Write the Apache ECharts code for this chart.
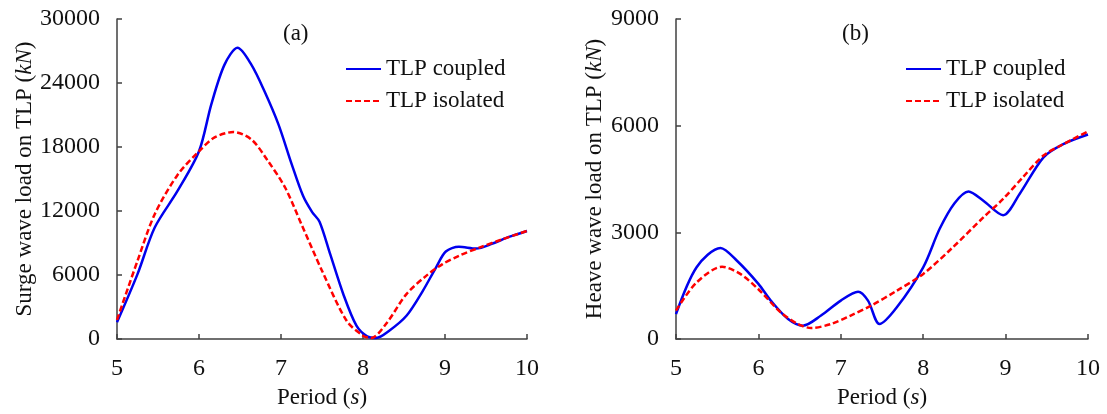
<!DOCTYPE html>
<html>
<head>
<meta charset="utf-8">
<script src="https://cdn.jsdelivr.net/npm/echarts@6/dist/echarts.min.js"></script>
<style>
html,body{margin:0;padding:0;background:#fff;}
#c{width:1107px;height:414px;}
</style>
</head>
<body>
<div id="c"></div>
<script>
// Panel (a): surge wave load (kN) vs period (s)
const surgeCoupledX = [5.0, 5.25, 5.46, 5.74, 6.0, 6.15, 6.31, 6.47, 6.64, 6.8, 6.97, 7.13, 7.27, 7.38, 7.47, 7.6, 7.76, 7.92, 8.05, 8.16, 8.32, 8.53, 8.73, 8.89, 9.01, 9.17, 9.38, 9.58, 9.78, 10.0];
const surgeCoupledY = [1560, 6080, 10450, 13900, 17600, 22000, 25700, 27300, 25700, 23200, 20100, 16400, 13400, 11900, 11000, 7950, 4200, 1250, 250, 100, 780, 2180, 4520, 6700, 8200, 8640, 8480, 8950, 9570, 10130];
const surgeIsolatedX = [5.0, 5.25, 5.46, 5.74, 6.0, 6.19, 6.42, 6.64, 6.84, 7.05, 7.25, 7.5, 7.8, 8.0, 8.1, 8.28, 8.53, 8.77, 8.97, 9.17, 9.42, 9.7, 10.0];
const surgeIsolatedY = [1800, 7330, 11700, 15400, 17600, 18900, 19400, 18700, 16700, 14200, 10750, 6400, 1710, 310, 90, 1400, 4210, 5920, 7020, 7800, 8570, 9350, 10130];

// Panel (b): heave wave load (kN) vs period (s)
const heaveCoupledX = [5.0, 5.25, 5.54, 5.74, 6.0, 6.15, 6.36, 6.54, 6.76, 7.0, 7.21, 7.33, 7.47, 7.68, 8.0, 8.2, 8.38, 8.55, 8.73, 8.97, 9.17, 9.46, 9.7, 10.0];
const heaveCoupledY = [700, 2020, 2560, 2200, 1550, 1080, 560, 375, 660, 1080, 1330, 1080, 420, 890, 2015, 3100, 3820, 4150, 3890, 3480, 4080, 5110, 5480, 5750];
const heaveIsolatedX = [5.0, 5.25, 5.56, 5.78, 6.0, 6.27, 6.48, 6.64, 6.88, 7.12, 7.37, 7.68, 8.0, 8.36, 8.73, 8.97, 9.21, 9.46, 9.7, 10.0];
const heaveIsolatedY = [800, 1590, 2030, 1830, 1400, 750, 420, 310, 420, 660, 940, 1360, 1830, 2580, 3420, 3940, 4550, 5160, 5480, 5840];

const seriesNames = ['TLP coupled', 'TLP isolated'];
const panelLabels = ['(a)', '(b)'];
const yNames = ['Surge wave load on TLP ({i|kN})', 'Heave wave load on TLP ({i|kN})'];
const xName = 'Period ({i|s})';

const FONT = '"Liberation Serif", "Times New Roman", serif';
const FS = 23;
const LFS = 24;
const AX = '#404040';
const TXT = '#111';
const zip = (xs, ys) => xs.map((x, i) => [x, ys[i]]);

function xAxisCfg(gi) {
  return {
    type: 'value', gridIndex: gi, min: 5, max: 10, interval: 1,
    name: xName, nameLocation: 'middle', nameGap: 47,
    nameTextStyle: {fontFamily: FONT, fontSize: FS, color: TXT,
      rich: {i: {fontFamily: FONT, fontSize: FS, fontStyle: 'italic', color: TXT}}},
    axisLine: {lineStyle: {color: AX, width: 1.5}},
    axisTick: {inside: true, length: 5, lineStyle: {color: AX, width: 1.5}},
    axisLabel: {fontFamily: FONT, fontSize: LFS, color: TXT, margin: 18, formatter: v => String(v)},
    splitLine: {show: false}
  };
}
function yAxisCfg(gi, max, interval, gap) {
  return {
    type: 'value', gridIndex: gi, min: 0, max: max, interval: interval,
    name: yNames[gi], nameLocation: 'middle', nameGap: gap, nameRotate: 90,
    nameTextStyle: {fontFamily: FONT, fontSize: FS, color: TXT,
      rich: {i: {fontFamily: FONT, fontSize: FS, fontStyle: 'italic', color: TXT}}},
    axisLine: {show: true, lineStyle: {color: AX, width: 1.5}},
    axisTick: {show: true, inside: true, length: 5, lineStyle: {color: AX, width: 1.5}},
    axisLabel: {fontFamily: FONT, fontSize: LFS, color: TXT, margin: 17, formatter: v => String(v)},
    splitLine: {show: false}
  };
}
function lineSeries(name, gi, data, color, dashed) {
  return {
    type: 'line', name: name, xAxisIndex: gi, yAxisIndex: gi, data: data,
    smooth: 0.3, showSymbol: false, symbol: 'none',
    lineStyle: {color: color, width: 2.5, type: dashed ? [6, 3] : 'solid'},
    itemStyle: {color: color}
  };
}
function legendCfg(left) {
  return {
    data: seriesNames, orient: 'vertical', left: left, top: 57, padding: 0,
    itemWidth: 35, itemHeight: 4, itemGap: 8,
    itemStyle: {opacity: 0},
    textStyle: {fontFamily: FONT, fontSize: FS, color: TXT, lineHeight: 24}
  };
}

const option = {
  backgroundColor: '#fff',
  animation: false,
  title: [
    {text: panelLabels[0], left: 278, top: 17, textStyle: {fontFamily: FONT, fontSize: FS, fontWeight: 'normal', color: TXT}},
    {text: panelLabels[1], left: 837, top: 17, textStyle: {fontFamily: FONT, fontSize: FS, fontWeight: 'normal', color: TXT}}
  ],
  legend: [legendCfg(345), legendCfg(905)],
  grid: [
    {left: 117, top: 19, width: 410, height: 321},
    {left: 676, top: 19, width: 412, height: 321}
  ],
  xAxis: [xAxisCfg(0), xAxisCfg(1)],
  yAxis: [yAxisCfg(0, 30000, 6000, 80), yAxisCfg(1, 9000, 3000, 70)],
  series: [
    lineSeries(seriesNames[0], 0, zip(surgeCoupledX, surgeCoupledY), '#0000ee', false),
    lineSeries(seriesNames[1], 0, zip(surgeIsolatedX, surgeIsolatedY), '#ff0000', true),
    lineSeries(seriesNames[0], 1, zip(heaveCoupledX, heaveCoupledY), '#0000ee', false),
    lineSeries(seriesNames[1], 1, zip(heaveIsolatedX, heaveIsolatedY), '#ff0000', true)
  ]
};
const chart = echarts.init(document.getElementById('c'), null, {renderer: 'canvas'});
chart.setOption(option);
</script>
</body>
</html>
